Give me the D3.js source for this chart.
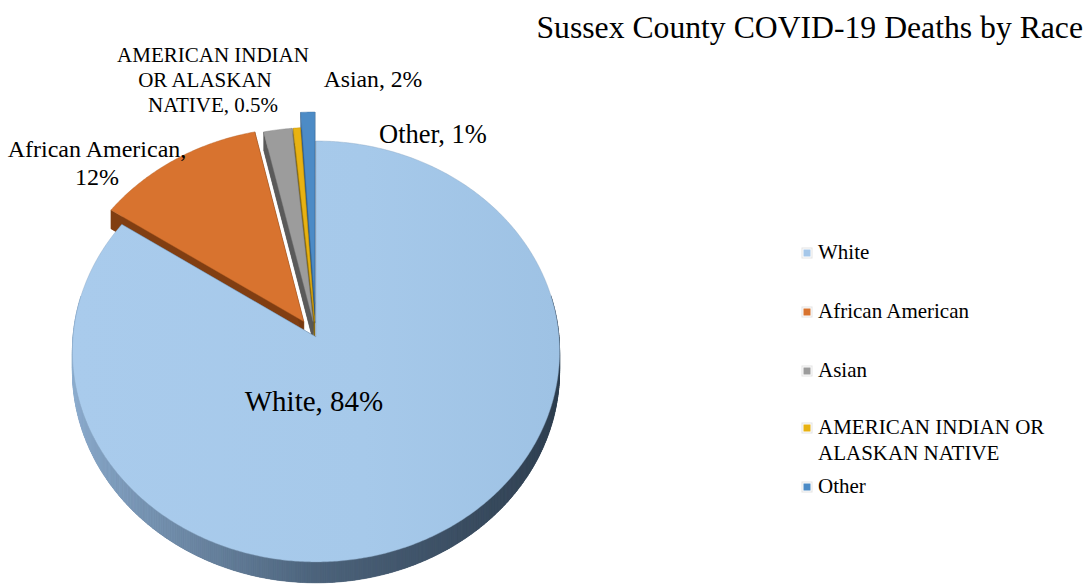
<!DOCTYPE html>
<html lang="en">
<head>
    <meta charset="UTF-8">
    <title>Sussex County COVID-19 Deaths by Race</title>
    <script src="https://d3js.org/d3.v7.min.js"></script>
    <style>
        body {
            margin: 0;
            background: #fff;
            font-family: "Liberation Serif", "Times New Roman", serif;
        }
    </style>
</head>
<body>
    <div id="chart"></div>
    <script>
        // data
        const categories = ["White", "African American", "Asian", "AMERICAN INDIAN OR ALASKAN NATIVE", "Other"];
        const values = [84, 12, 2, 0.5, 1];
        const labelLines = [
            ["White, 84%"],
            ["African American,", "12%"],
            ["Asian, 2%"],
            ["AMERICAN INDIAN", "OR ALASKAN", "NATIVE, 0.5%"],
            ["Other, 1%"]
        ];
        const legendLines = [
            ["White"],
            ["African American"],
            ["Asian"],
            ["AMERICAN INDIAN OR", "ALASKAN NATIVE"],
            ["Other"]
        ];

        // styles
        const topColors = ["#a5c7e9", "#d8732f", "#9c9c9c", "#e8b212", "#4c8bc6"];
        // side shading: [right/dark, front/mid, left/light]
        const sideRamp = [
            ["#2e3e4f", "#4d647c", "#8eaed0"],
            ["#4e2408", "#7a3a10", "#9a4c18"],
            ["#383838", "#5a5a5a", "#777"],
            ["#5e4604", "#8a6a06", "#a88208"],
            ["#1f3f60", "#31608e", "#3f74a8"]
        ];
        const explode = [0, 0.09, 0.075, 0.075, 0.16];

        // label layout (x, first baseline, font size, line step, per-line x shift)
        const labelLayout = [
            { x: 314, y: 411, size: 29, step: 0, dx: [0] },
            { x: 97, y: 157, size: 24, step: 28, dx: [0, 0] },
            { x: 373, y: 87, size: 23.7, step: 0, dx: [0] },
            { x: 213, y: 62, size: 21, step: 25, dx: [0, -8, 0] },
            { x: 433, y: 143, size: 26.5, step: 0, dx: [0] }
        ];

        const W = 1089, H = 585;
        const svg = d3.select("#chart").append("svg")
            .attr("width", W).attr("height", H);

        const cx = 316, cy = 337;
        const persp = 0.0688;   // perspective strength
        const tiltSin = 0.862, tiltCos = 0.507;
        const thick = 0.158;

        const sx = d3.scaleLinear().domain([-1, 1]).range([cx - 243, cx + 243]);
        const sy = d3.scaleLinear().domain([-1, 1]).range([cy + 243, cy - 243]);

        function proj(px, pz, h) {
            const w = 1 + persp * pz;
            return [sx(px / w), sy((tiltSin * pz + tiltCos * h) / w)];
        }

        const arcs = d3.pie().sort(null).value(d => d)(values);
        const line = d3.line();

        const defs = svg.append("defs");
        const grad = defs.append("linearGradient").attr("id", "whiteTop")
            .attr("x1", "0").attr("y1", "0").attr("x2", "1").attr("y2", "0");
        grad.append("stop").attr("offset", "0").attr("stop-color", "#a9cbec");
        grad.append("stop").attr("offset", "0.6").attr("stop-color", "#a6c9ea");
        grad.append("stop").attr("offset", "1").attr("stop-color", "#9ec2e4");

        // draw far slices first
        const order = d3.range(arcs.length).sort((a, b) => {
            const ma = (arcs[a].startAngle + arcs[a].endAngle) / 2;
            const mb = (arcs[b].startAngle + arcs[b].endAngle) / 2;
            return Math.cos(mb) - Math.cos(ma);
        });

        const pieG = svg.append("g");

        order.forEach(i => {
            const a = arcs[i];
            const mid = (a.startAngle + a.endAngle) / 2;
            const ox = explode[i] * Math.sin(mid);
            const oz = explode[i] * Math.cos(mid);
            const n = Math.max(2, Math.ceil((a.endAngle - a.startAngle) / (Math.PI / 360)));
            const angs = d3.range(n + 1).map(k => a.startAngle + (a.endAngle - a.startAngle) * k / n);

            const pt = (t, r, h) => proj(ox + r * Math.sin(t), oz + r * Math.cos(t), h);
            const topPts = [pt(0, 0, 0)].concat(angs.map(t => pt(t, 1, 0)));
            const botPts = [pt(0, 0, -thick)].concat(angs.map(t => pt(t, 1, -thick)));

            const g = pieG.append("g");
            const ramp = d3.scaleLinear().domain([0, 0.5, 1]).range(sideRamp[i])
                .interpolate(d3.interpolateRgb).clamp(true);

            // bottom face
            g.append("path").attr("d", line(botPts) + "Z").attr("fill", ramp(0.3));

            // radial walls
            [[a.startAngle, 1], [a.endAngle, n + 1]].forEach(([t, idx]) => {
                const q = [topPts[0], topPts[idx], botPts[idx], botPts[0]];
                const f = 0.45 + 0.2 * Math.abs(Math.sin(t));
                g.append("path").attr("d", line(q) + "Z")
                    .attr("fill", ramp(f)).attr("stroke", ramp(f)).attr("stroke-width", 0.5);
            });

            // outer wall
            for (let k = 0; k < n; k++) {
                const t = (angs[k] + angs[k + 1]) / 2;
                if (Math.cos(t) > 0.2) continue;
                const q = [topPts[k + 1], topPts[k + 2], botPts[k + 2], botPts[k + 1]];
                const f = (1 - Math.sin(t)) / 2;
                g.append("path").attr("d", line(q) + "Z")
                    .attr("fill", ramp(f)).attr("stroke", ramp(f)).attr("stroke-width", 0.6);
            }

            // top face
            g.append("path").attr("d", line(topPts) + "Z")
                .attr("fill", i === 0 ? "url(#whiteTop)" : topColors[i])
                .attr("stroke", d3.color(topColors[i]).darker(0.5))
                .attr("stroke-width", 0.7)
                .attr("stroke-opacity", 0.6);
        });

        // data labels
        labelLines.forEach((lines, i) => {
            const L = labelLayout[i];
            const t = svg.append("text")
                .attr("text-anchor", "middle")
                .attr("font-size", L.size)
                .attr("fill", "#000");
            lines.forEach((s, j) => {
                t.append("tspan")
                    .attr("x", L.x + L.dx[j])
                    .attr("y", L.y + j * L.step)
                    .text(s);
            });
        });

        // title
        svg.append("text")
            .attr("x", 1083).attr("y", 38)
            .attr("text-anchor", "end")
            .attr("font-size", 31.7)
            .text("Sussex County COVID-19 Deaths by Race");

        // legend
        const legendY = [259, 318, 377, 434, 493];
        const leg = svg.append("g");
        categories.forEach((c, i) => {
            leg.append("rect")
                .attr("x", 802).attr("y", legendY[i] - 11)
                .attr("width", 10).attr("height", 10)
                .attr("fill", "#fff").attr("stroke", "#e3e3e3").attr("stroke-width", 1);
            leg.append("rect")
                .attr("x", 803.5).attr("y", legendY[i] - 9.5)
                .attr("width", 7).attr("height", 7)
                .attr("fill", topColors[i]);
            const t = leg.append("text").attr("font-size", 21);
            legendLines[i].forEach((s, j) => {
                t.append("tspan").attr("x", 818).attr("y", legendY[i] + j * 26).text(s);
            });
        });
    </script>
</body>
</html>
